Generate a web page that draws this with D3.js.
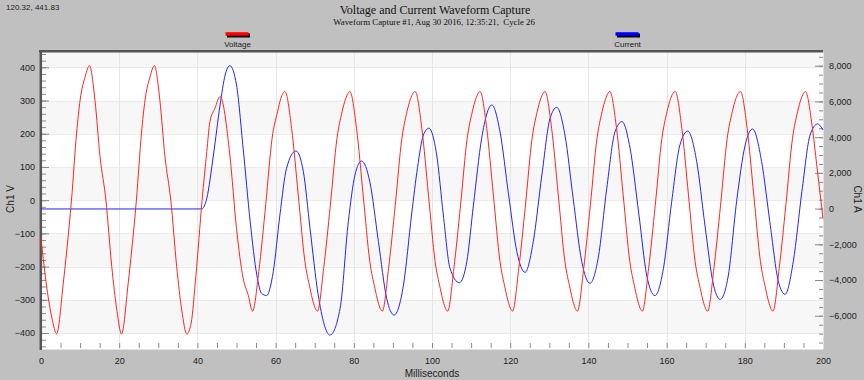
<!DOCTYPE html>
<html>
<head>
<meta charset="utf-8">
<script src="https://cdn.jsdelivr.net/npm/d3@7"></script>
<style>
  body { margin: 0; background: #c0c0c0; }
  svg { display: block; font-family: "Liberation Sans", Arial, sans-serif; }
</style>
</head>
<body>
<svg id="chart" width="864" height="380"></svg>
<script>
// voltage samples (ms, volts)
const voltageMs = [0, 1.5, 2.8, 4.0, 5.7, 6.6, 7.8, 9.1, 10.0, 11.3, 12.4, 13.8, 15.1, 16.6, 18.1, 19.4,
  20.6, 22.3, 23.2, 24.4, 25.7, 26.6, 27.9, 29.0, 30.4, 31.7, 33.2, 34.7, 36.0,
  37.3, 38.4, 39.6, 41.2, 42.4, 43.2, 44.5, 45.8,
  48.3, 50.0, 51.7, 53.0, 54.1, 55.7, 57.5, 59.1, 60.5, 61.3, 62.4,
  64.1, 65.8, 67.5, 68.8, 69.6, 70.7, 72.3, 74.0, 75.7, 77.0, 77.9, 79.0,
  80.7, 82.4, 84.1, 85.4, 86.2, 87.3, 88.9, 90.6, 92.3, 93.6, 94.5, 95.7,
  97.4, 99.1, 100.8, 102.1, 102.9, 104.0, 105.6, 107.3, 109.0, 110.3, 111.2, 112.3,
  114.0, 115.7, 117.4, 118.7, 119.5, 120.6, 122.2, 123.9, 125.6, 126.9, 127.8, 128.9,
  130.6, 132.3, 134.0, 135.3, 136.1, 137.2, 138.8, 140.5, 142.2, 143.5, 144.4, 145.5,
  147.2, 148.9, 150.6, 151.9, 152.7, 153.8, 155.4, 157.1, 158.8, 160.1, 161.0, 162.2,
  163.9, 165.6, 167.3, 168.6, 169.4, 170.5, 172.1, 173.8, 175.5, 176.8, 177.7, 178.9,
  180.6, 182.3, 184.0, 185.3, 186.1, 187.2, 188.8, 190.5, 192.2, 193.5, 194.4, 195.5,
  197.3, 198.4, 200];
const voltageV = [-115, -265, -355, -402, -250, -150, 0, 202, 301, 372, 405, 301, 131, 0, -200, -331,
  -403, -250, -150, 0, 202, 301, 372, 405, 301, 131, 0, -200, -331,
  -403, -370, -230, 0, 146, 236, 277, 312,
  136, -85, -235, -286, -334, -215, -10, 186, 266, 305, 327,
  216, 15, -185, -265, -306, -334, -205, -15, 186, 266, 305, 327,
  216, 15, -185, -265, -306, -334, -205, -15, 186, 266, 305, 327,
  216, 15, -185, -265, -306, -334, -205, -15, 186, 266, 305, 327,
  216, 15, -185, -265, -306, -334, -205, -15, 186, 266, 305, 327,
  216, 15, -185, -265, -306, -334, -205, -15, 186, 266, 305, 327,
  216, 15, -185, -265, -306, -334, -205, -15, 186, 266, 305, 327,
  216, 15, -185, -265, -306, -334, -205, -15, 186, 266, 305, 327,
  216, 15, -185, -265, -306, -334, -205, -15, 186, 266, 305, 327,
  216, 106, -55];

// current samples (ms, amps)
const currentMs = [0, 41.1, 42.4, 44.1, 45.8, 47.1, 48.3, 50.0, 51.7, 53.5, 55.2, 56.4, 57.7, 59.4,
  61.1, 62.8, 65.2, 67.1, 68.8, 70.9, 73.9, 76.5, 78.6, 80.3, 82.0, 84.1, 86.3, 88.4,
  90.3, 92.7, 94.8, 96.3, 97.8, 99.2, 101.2, 102.9, 104.6, 107.0, 108.9, 110.6, 112.7,
  115.3, 117.4, 119.6, 121.7, 123.8, 125.9, 128.1, 130.2, 131.9, 134.0, 136.1, 138.3,
  140.4, 142.5, 144.7, 146.8, 148.6, 150.6, 152.9, 154.9, 157.0, 159.2, 161.3, 163.4,
  165.4, 167.7, 169.8, 172.0, 173.7, 175.8, 177.9, 180.1, 182.0, 184.3, 186.4, 188.6,
  190.3, 192.4, 194.6, 196.7, 198.6, 200];
const currentA = [-20, -20, 577, 3000, 5800, 7480, 8000, 6920, 3376, -730, -3720, -4740, -4870, -3530,
  -360, 2260, 3225, 2070, -1100, -4840, -7080, -5580, -730, 1880, 2665, 1500, -1850, -5020,
  -5960, -4280, -300, 2300, 4120, 4500, 3000, -360, -3340, -4150, -2970, 200, 3940,
  5800, 4300, 760, -2410, -3570, -1850, 1880, 5060, 5670, 4120, 577, -2970,
  -4180, -2780, 1140, 4300, 4870, 3450, -300, -3720, -4870, -3340, 390, 3560,
  4340, 2630, -920, -4280, -5080, -3720, 390, 3560, 4460, 2630, -730, -4090,
  -4800, -2970, 950, 4120, 4740, 4400];

const msTicks = [0, 20, 40, 60, 80, 100, 120, 140, 160, 180, 200];
const voltTicks = [-400, -300, -200, -100, 0, 100, 200, 300, 400];
const ampTicks = [-6000, -4000, -2000, 0, 2000, 4000, 6000, 8000];

const svg = d3.select("#chart");
const plotL = 41, plotR = 823, plotT = 52, plotB = 349;

const x = d3.scaleLinear().domain([0, 200]).range([plotL, plotR]);
const yV = d3.scaleLinear().domain([-448, 446]).range([plotB, plotT]);
const yA = d3.scaleLinear().domain([-7861, 8768]).range([plotB, plotT]);

// plot background + alternating bands
svg.append("rect").attr("x", plotL).attr("y", plotT).attr("width", plotR - plotL).attr("height", plotB - plotT).attr("fill", "#fff");
svg.append("g").selectAll("rect")
  .data(voltTicks.filter(v => (v / 100) % 2 === 0))
  .enter().append("rect")
  .attr("x", plotL).attr("width", plotR - plotL)
  .attr("y", d => yV(Math.min(d + 100, 446)))
  .attr("height", d => yV(d) - yV(Math.min(d + 100, 446)))
  .attr("fill", "#f7f7f7");
svg.append("g").selectAll("line")
  .data(voltTicks)
  .enter().append("line")
  .attr("x1", plotL).attr("x2", plotR)
  .attr("y1", d => Math.round(yV(d)) + 0.5).attr("y2", d => Math.round(yV(d)) + 0.5)
  .attr("stroke", "#ebebeb");
svg.append("g").selectAll("line")
  .data(msTicks.slice(1, -1))
  .enter().append("line")
  .attr("y1", plotT).attr("y2", plotB)
  .attr("x1", d => Math.round(x(d)) + 0.5).attr("x2", d => Math.round(x(d)) + 0.5)
  .attr("stroke", "#e6e6e6");

// inner tick marks
function innerTicks(axis, tr) {
  const g = svg.append("g").attr("transform", tr).call(axis);
  g.select(".domain").remove();
  g.selectAll("line").attr("stroke", "#8a8a8a");
  g.selectAll("text").remove();
}
innerTicks(d3.axisRight(yV).ticks(45).tickSize(4), `translate(${plotL + 1},0)`);
innerTicks(d3.axisRight(yV).tickValues(voltTicks).tickSize(7), `translate(${plotL + 1},0)`);
innerTicks(d3.axisLeft(yA).ticks(33).tickSize(4), `translate(${plotR},0)`);
innerTicks(d3.axisLeft(yA).tickValues(ampTicks).tickSize(8), `translate(${plotR},0)`);
innerTicks(d3.axisTop(x).ticks(40).tickSize(5), `translate(0,${plotB - 1})`);

// frame
svg.append("line").attr("x1", plotL).attr("x2", plotR).attr("y1", plotB + 0.5).attr("y2", plotB + 0.5).attr("stroke", "#e2e2e2");
svg.append("line").attr("x1", plotR + 0.5).attr("x2", plotR + 0.5).attr("y1", plotT).attr("y2", plotB).attr("stroke", "#e2e2e2");
svg.append("line").attr("x1", 39).attr("x2", plotR).attr("y1", 51.2).attr("y2", 51.2).attr("stroke", "#555").attr("stroke-width", 2.5);
svg.append("line").attr("x1", 40.8).attr("x2", 40.8).attr("y1", 50).attr("y2", plotB + 1).attr("stroke", "#555").attr("stroke-width", 2.5);

// series
const vLine = d3.line().x(d => x(d[0])).y(d => yV(d[1])).curve(d3.curveMonotoneX);
const aLine = d3.line().x(d => x(d[0])).y(d => yA(d[1])).curve(d3.curveMonotoneX);
svg.append("path").datum(currentMs.map((t, i) => [t, currentA[i]]))
  .attr("d", aLine).attr("fill", "none").attr("stroke", "#2323ff").attr("stroke-width", 1);
svg.append("path").datum(voltageMs.map((t, i) => [t, voltageV[i]]))
  .attr("d", vLine).attr("fill", "none").attr("stroke", "#ff2424").attr("stroke-width", 1);

// tick labels
function labels(axis, tr) {
  const g = svg.append("g").attr("transform", tr).call(axis);
  g.select(".domain").remove();
  g.selectAll("line").remove();
  g.selectAll("text").attr("fill", "#222").style("font-size", "9px").style("font-family", "'Liberation Sans', Arial, sans-serif");
}
labels(d3.axisLeft(yV).tickValues(voltTicks).tickSize(0).tickPadding(6), `translate(${plotL},0)`);
labels(d3.axisRight(yA).tickValues(ampTicks).tickSize(0).tickPadding(6), `translate(${plotR},0)`);
labels(d3.axisBottom(x).tickValues(msTicks).tickSize(0).tickPadding(9), `translate(0,${plotB})`);

// axis titles
svg.append("text").attr("x", (plotL + plotR) / 2).attr("y", 377).attr("text-anchor", "middle")
  .attr("font-size", 10).attr("fill", "#222").text("Milliseconds");
svg.append("text").attr("transform", "translate(13.5,199) rotate(-90)").attr("text-anchor", "middle")
  .attr("font-size", 10).attr("fill", "#222").text("Ch1 V");
svg.append("text").attr("transform", "translate(854,199) rotate(90)").attr("text-anchor", "middle")
  .attr("font-size", 10).attr("fill", "#222").text("Ch1 A");

// titles
svg.append("text").attr("x", 435).attr("y", 14).attr("text-anchor", "middle")
  .attr("font-family", "'Liberation Serif', 'Times New Roman', serif").attr("font-size", 12).attr("fill", "#111")
  .text("Voltage and Current Waveform Capture");
svg.append("text").attr("x", 434).attr("y", 25).attr("text-anchor", "middle").style("white-space", "pre")
  .attr("font-family", "'Liberation Serif', 'Times New Roman', serif").attr("font-size", 8.8).attr("fill", "#111")
  .text("Waveform Capture #1, Aug 30 2016, 12:35:21,  Cycle 26");
svg.append("text").attr("x", 6).attr("y", 10).attr("font-size", 8).attr("fill", "#222").text("120.32, 441.83");

// legend
const legend = [
  { name: "Voltage", color: "#ff0000", x: 225.5 },
  { name: "Current", color: "#0000ff", x: 615.5 }
];
const lg = svg.append("g").selectAll("g").data(legend).enter().append("g");
lg.append("rect").attr("x", d => d.x + 1.5).attr("y", 33.5).attr("width", 23).attr("height", 4).attr("fill", "#000");
lg.append("rect").attr("x", d => d.x).attr("y", 32.2).attr("width", 23).attr("height", 3.5).attr("fill", d => d.color);
lg.append("text").attr("x", d => d.x + 12).attr("y", 47).attr("text-anchor", "middle")
  .attr("font-size", 8).attr("fill", "#222").text(d => d.name);
</script>
</body>
</html>
